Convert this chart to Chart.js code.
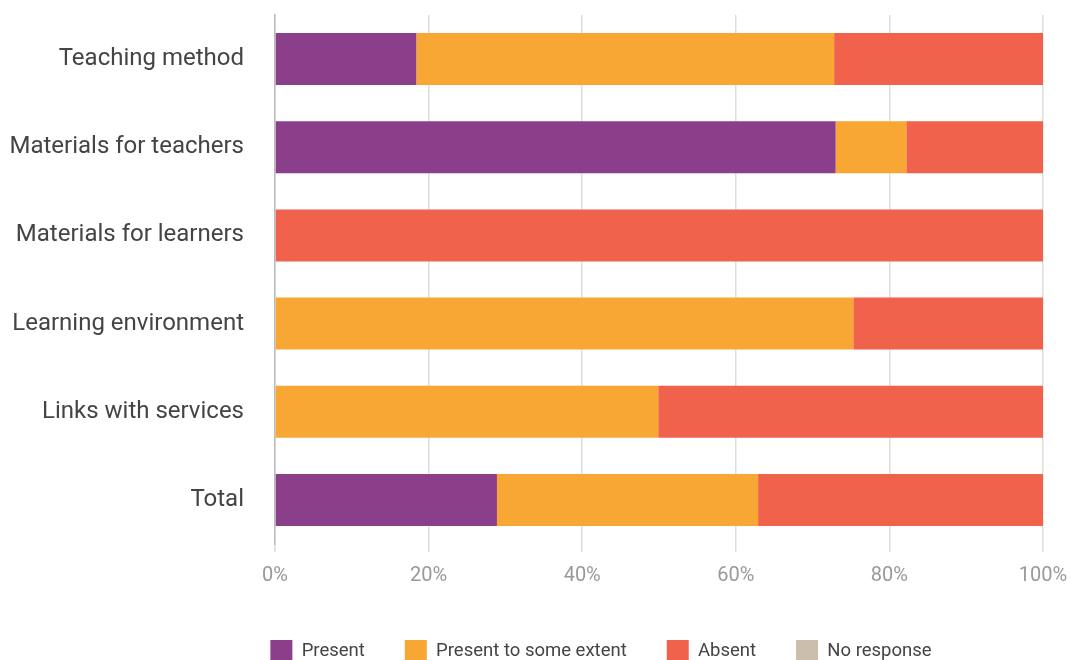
<!DOCTYPE html>
<html>
<head>
<meta charset="utf-8">
<script src="https://cdn.jsdelivr.net/npm/chart.js@4/dist/chart.umd.min.js"></script>
<style>
  html, body { margin: 0; padding: 0; background: #fff; }
  #wrap { width: 1070px; height: 660px; position: relative; }
</style>
</head>
<body>
<div id="wrap"><canvas id="chart"></canvas></div>
<script>
  // categories + series (percent of responses)
  const categories = ['Teaching method', 'Materials for teachers', 'Materials for learners',
                      'Learning environment', 'Links with services', 'Total'];
  const present      = [18.4, 73.0, 0, 0, 0, 28.9];
  const someExtent   = [54.4, 9.2, 0, 75.3, 49.9, 34.0];
  const absent       = [27.2, 17.8, 100, 24.7, 50.1, 37.1];
  const noResponse   = [0, 0, 0, 0, 0, 0];
  const xTicks       = [0, 20, 40, 60, 80, 100];

  const FONT = 'Roboto, "Noto Sans", sans-serif';

  function serie(label, data, cor) {
    return {
      label, data,
      backgroundColor: cor,
      borderWidth: 0,
      barPercentage: 0.59,
      categoryPercentage: 1,
    };
  }

  // desloca a legenda para a direita (no original ela não fica centralizada no canvas)
  const legendaDeslocada = {
    id: 'legendaDeslocada',
    afterLayout(chart) {
      if (chart.legend) chart.legend.left = 159;
    },
  };

  new Chart(document.getElementById('chart'), {
    type: 'bar',
    data: {
      labels: categories,
      datasets: [
        serie('Present', present, '#8b3f8b'),
        serie('Present to some extent', someExtent, '#f9a734'),
        serie('Absent', absent, '#f1624c'),
        serie('No response', noResponse, '#cbbeac'),
      ],
    },
    plugins: [legendaDeslocada],
    options: {
      indexAxis: 'y',
      responsive: true,
      maintainAspectRatio: false,
      animation: false,
      layout: { padding: { top: 15, right: 27, left: 0, bottom: -12 } },
      plugins: {
        tooltip: { enabled: false },
        legend: {
          position: 'bottom',
          labels: {
            boxWidth: 22,
            boxHeight: 22,
            padding: 40,
            color: '#444',
            font: { family: FONT, size: 18.5 },
          },
        },
      },
      scales: {
        x: {
          stacked: true,
          min: 0,
          max: 100,
          afterBuildTicks(scale) { scale.ticks = xTicks.map(v => ({ value: v })); },
          afterFit(scale) {
            scale.paddingLeft = 0;
            scale.paddingRight = 0;
          },
          ticks: {
            color: '#999',
            padding: 12,
            font: { family: FONT, size: 20 },
            callback: v => v + '%',
          },
          grid: { color: '#dddddd', lineWidth: 1.5, tickLength: 8 },
          border: { display: false },
        },
        y: {
          stacked: true,
          afterFit(scale) {
            scale.width = 275;
            scale.paddingTop = 0;
            scale.paddingBottom = 0;
          },
          ticks: {
            color: '#444',
            padding: 31,
            font: { family: FONT, size: 24 },
          },
          grid: { display: false, drawTicks: false },
          border: { color: '#bbbbbb', width: 1.5 },
        },
      },
    },
  });
</script>
</body>
</html>
